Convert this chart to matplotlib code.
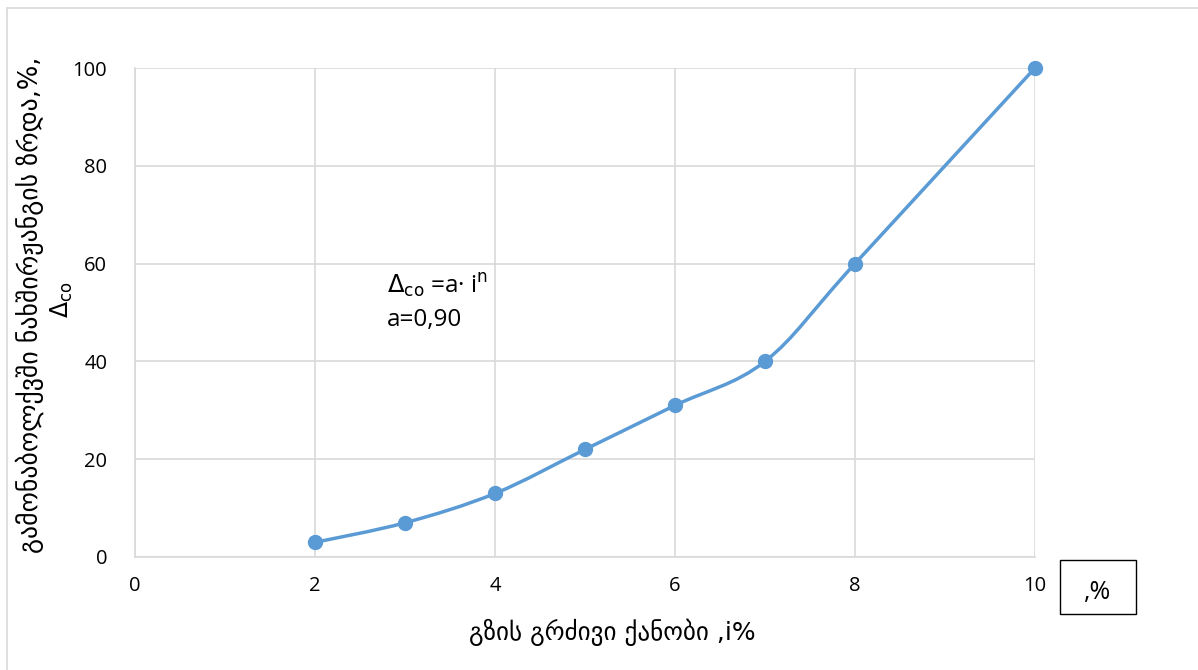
import matplotlib
matplotlib.use("Agg")
import matplotlib.pyplot as plt
from matplotlib.path import Path
from matplotlib.patches import PathPatch, Rectangle

x_vals = [2, 3, 4, 5, 6, 7, 8, 10]
y_vals = [3, 7, 13, 22, 31, 40, 60, 100]
x_ticks = [0, 2, 4, 6, 8, 10]
y_ticks = [0, 20, 40, 60, 80, 100]
x_label = "გზის გრძივი ქანობი ,i%"
y_label = "გამონაბოლქვში ნახშირჟანგის ზრდა,%,"
y_label2 = r"$\Delta_{\rm co}$"
formula = r"$\Delta_{\rm co}$ =a· i$^{\rm n}$"
coef = "a=0,90"
unit = ",%"

plt.rcParams['font.family'] = ['Open Sans', 'DejaVu Sans']
plt.rcParams['mathtext.fontset'] = 'dejavusans'

W, H = 1198, 670
fig = plt.figure(figsize=(W/100, H/100), dpi=100)
ax = fig.add_axes([135/W, 1-557/H, 900/W, 489/H])

blue = '#5B9BD5'
grid = '#D9D9D9'

# smooth curve through points (cubic Bezier, Catmull-Rom control points)
pts = list(zip(x_vals, y_vals))
verts = [pts[0]]
codes = [Path.MOVETO]
n = len(pts)
for i in range(n - 1):
    p0 = pts[i - 1] if i > 0 else pts[i]
    p1 = pts[i]
    p2 = pts[i + 1]
    p3 = pts[i + 2] if i + 2 < n else pts[i + 1]
    c1 = (p1[0] + (p2[0] - p0[0]) / 6, p1[1] + (p2[1] - p0[1]) / 6)
    c2 = (p2[0] - (p3[0] - p1[0]) / 6, p2[1] - (p3[1] - p1[1]) / 6)
    verts += [c1, c2, p2]
    codes += [Path.CURVE4] * 3
ax.add_patch(PathPatch(Path(verts, codes), facecolor='none', edgecolor=blue,
                       lw=2.5, zorder=3, capstyle='round', clip_on=False))
ax.plot(x_vals, y_vals, 'o', color=blue, markersize=10, zorder=4, clip_on=False)

ax.set_xlim(0, 10)
ax.set_ylim(0, 100)
ax.set_xticks(x_ticks)
ax.set_yticks(y_ticks)
ax.grid(True, color=grid, lw=1.2)
ax.set_axisbelow(True)
for s in ['top', 'right']:
    ax.spines[s].set_visible(False)
for s in ['left', 'bottom']:
    ax.spines[s].set_color(grid)
    ax.spines[s].set_linewidth(1.2)
ax.tick_params(length=0, labelsize=14.5, colors='#000000', pad=14)
ax.tick_params(axis='y', pad=20)

fig.text(612/W, 1-632/H, x_label, ha='center', va='center', fontsize=18,
         family=['DejaVu Sans'])
fig.text(30/W, 1-305/H, y_label, ha='center', va='center', rotation=90,
         fontsize=18.5, family=['DejaVu Sans'])
fig.text(62/W, 1-300/H, y_label2, ha='center', va='center', rotation=90,
         fontsize=17)

ax.text(2.8, 55.5, formula, fontsize=17.5, ha='left', va='center')
ax.text(2.8, 48.5, coef, fontsize=17.5, ha='left', va='center')

# unit box
fig.patches.append(Rectangle((1060/W, 1-614/H), 76/W, 54/H, transform=fig.transFigure,
                             facecolor='white', edgecolor='black', lw=1.0))
fig.text(1098/W, 1-592/H, unit, ha='center', va='center', fontsize=18)

# outer chart border
fig.patches.append(Rectangle((7/W, -0.1), 1.2, (1-8/H) + 0.1, transform=fig.transFigure,
                             facecolor='none', edgecolor=grid, lw=1.2))

fig.savefig('out.png', dpi=100)
